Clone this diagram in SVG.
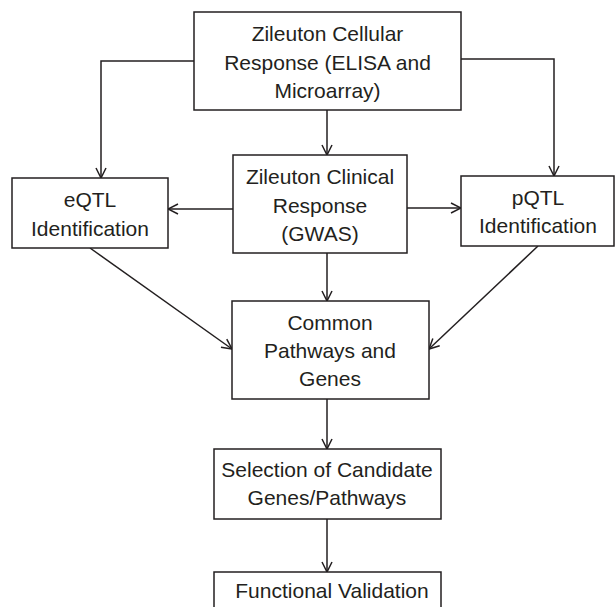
<svg xmlns="http://www.w3.org/2000/svg" width="616" height="607" viewBox="0 0 616 607">
<style>
.box{fill:#fff;stroke:#231f20;stroke-width:1.5}
.t{font-family:"Liberation Sans",Arial,sans-serif;font-size:21px;fill:#231f20;text-anchor:middle}
.c{fill:none;stroke:#231f20;stroke-width:1.5}
</style>
<defs>
<marker id="a" viewBox="0 0 12 12" refX="11" refY="6" markerWidth="12" markerHeight="12" markerUnits="userSpaceOnUse" orient="auto">
<path d="M1,1 L11,6 L1,11" fill="none" stroke="#231f20" stroke-width="1.5"/>
</marker>
</defs>
<rect width="616" height="607" fill="#fff"/>
<g id="connectors">
<path class="c" d="M194,61 H101 V178" marker-end="url(#a)"/>
<path class="c" d="M461,59 H554 V176" marker-end="url(#a)"/>
<path class="c" d="M327,110 V155" marker-end="url(#a)"/>
<path class="c" d="M233,209 H168" marker-end="url(#a)"/>
<path class="c" d="M407,208 H461" marker-end="url(#a)"/>
<path class="c" d="M327,253 V301" marker-end="url(#a)"/>
<path class="c" d="M90,248 L232,349" marker-end="url(#a)"/>
<path class="c" d="M538,246 L429,349" marker-end="url(#a)"/>
<path class="c" d="M327,399 V449" marker-end="url(#a)"/>
<path class="c" d="M327,519 V572" marker-end="url(#a)"/>
</g>
<g id="cellular">
<rect class="box" x="194" y="12" width="267" height="98"/>
<text class="t" x="327.5" y="41">Zileuton Cellular</text>
<text class="t" x="327.5" y="70">Response (ELISA and</text>
<text class="t" x="327.5" y="98">Microarray)</text>
</g>
<g id="eqtl">
<rect class="box" x="12" y="178" width="156" height="70"/>
<text class="t" x="90" y="207">eQTL</text>
<text class="t" x="90" y="236">Identification</text>
</g>
<g id="gwas">
<rect class="box" x="233" y="155" width="174" height="98"/>
<text class="t" x="320" y="184">Zileuton Clinical</text>
<text class="t" x="320" y="213">Response</text>
<text class="t" x="320" y="241">(GWAS)</text>
</g>
<g id="pqtl">
<rect class="box" x="461" y="176" width="153" height="70"/>
<text class="t" x="538" y="205">pQTL</text>
<text class="t" x="538" y="233">Identification</text>
</g>
<g id="common">
<rect class="box" x="232" y="301" width="197" height="98"/>
<text class="t" x="330" y="330">Common</text>
<text class="t" x="330" y="358">Pathways and</text>
<text class="t" x="330" y="386">Genes</text>
</g>
<g id="selection">
<rect class="box" x="214" y="449" width="227" height="70"/>
<text class="t" x="327" y="477">Selection of Candidate</text>
<text class="t" x="327" y="505">Genes/Pathways</text>
</g>
<g id="functional">
<path class="box" d="M214,610 V572 H441 V610"/>
<text class="t" x="332" y="598">Functional Validation</text>
</g>
</svg>
